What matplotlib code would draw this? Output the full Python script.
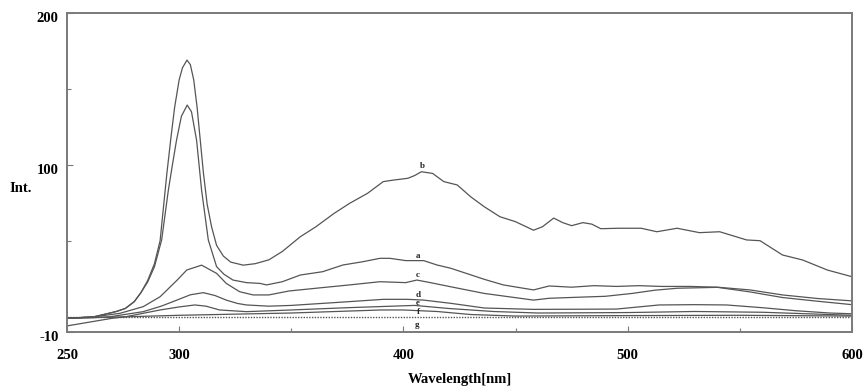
import matplotlib
matplotlib.use('Agg')
import matplotlib.pyplot as plt
import matplotlib.transforms as mtransforms
from matplotlib.ticker import FixedLocator

plt.rcParams['font.family'] = ['Liberation Serif', 'DejaVu Serif']
plt.rcParams['font.weight'] = 'bold'
plt.rcParams['axes.unicode_minus'] = False

# 光谱数据 (波长 nm, 强度)
wl_a = [250, 262, 272, 276, 280, 283, 286, 289, 292.2, 295.2, 297, 298.8, 301, 303.6, 305.5, 307.8, 310, 313,
        316.7, 320, 324, 330, 336, 339, 346, 354, 364, 373, 382, 389.5, 394, 401, 409, 415, 421, 428,
        436, 444.5, 458, 465, 475, 485, 495, 505, 515, 528, 540, 554.5, 569, 585, 600]
int_a = [-1, 0, 3.5, 5.5, 10, 16, 23, 33, 50.6, 83.5, 100, 116, 132, 139.4, 135, 116, 83.5, 50.6,
         33, 28, 24.2, 22.5, 22, 21, 23.1, 27.5, 29.7, 34.1, 36.3, 38.5, 38.5, 37, 37, 34.1, 32, 28.6,
         24.7, 21, 17.7, 20.3, 19.5, 20.5, 20, 20.5, 20, 20, 19.5, 17.7, 14.4, 12, 10.5]

wl_b = [250, 262, 272, 276, 280, 283, 286, 289, 291.5, 294.5, 296.5, 298, 300, 301.5, 303.5, 305, 306.5, 308,
        310.8, 312.5, 314.5, 316.7, 319.7, 323, 328.6, 334, 340, 346, 354, 361, 369, 376, 384, 391,
        395.5, 402, 405, 408, 413, 418, 424, 430, 436, 443, 450, 458, 462, 467, 471, 475, 480, 484,
        488, 496, 506, 513, 522, 532, 541, 553, 559, 569, 578, 589, 600]
int_b = [-1, 0, 3.5, 5.5, 10, 16, 24, 35, 50, 94, 120, 138, 156, 164, 169, 166, 156, 138,
         95, 74, 59, 47, 40, 36, 34, 35, 37.5, 43, 52.7, 59.3, 68, 74.7, 81.3, 89,
         90, 91.2, 93, 95.5, 94.4, 89, 86.8, 79, 72.5, 65.9, 62.6, 57, 59.3, 65, 62, 60, 62, 61,
         58, 58.3, 58.3, 56, 58.3, 55.4, 56, 50.6, 50.1, 40.7, 37.4, 30.8, 26.4]

wl_c = [250, 262, 273.6, 284, 291.5, 299, 303.4, 310, 316.7, 321, 327, 333, 340, 349, 361, 376,
        389.5, 401, 406, 412, 421, 436, 450, 458, 465, 480, 490, 502, 512, 522, 540, 554.5, 569,
        585, 600]
int_c = [-1, 0, 2.3, 6.7, 13.2, 24, 30.8, 34, 28.6, 22, 16.5, 14.4, 14.4, 17, 18.8, 21,
         23.1, 22.5, 24.2, 22.5, 19.8, 15.4, 12.6, 11, 12.2, 13, 13.5, 15.4, 17.5, 18.8, 19.4, 16.4, 12.7,
         10.2, 8]

wl_d = [250, 262, 269, 284, 292, 299, 305, 310.8, 316, 321, 326, 330, 340, 350, 376, 391, 402,
        409, 421, 436, 458, 480, 495, 514, 530, 544, 560, 575, 590, 600]
int_d = [-1, -0.5, 0, 3.4, 7, 11, 14.5, 15.9, 14, 11, 8.8, 7.8, 7, 7.5, 10, 11.5, 11.5,
         11, 8.9, 5.8, 4.9, 5, 5.1, 7.8, 8, 7.8, 6, 4, 2.5, 2]

wl_e = [250, 262, 276, 291.5, 300, 307, 312, 318, 330, 350, 375, 395, 405, 420, 440, 460, 500,
        530, 560, 600]
int_e = [-1, -0.5, 0, 4.5, 6.5, 7.8, 7, 4.5, 3.4, 4.5, 6, 7, 7.5, 5.5, 3.5, 2.5, 2.8,
         3.5, 3, 1]

wl_f = [250, 260, 270, 276, 300, 350, 390, 400, 415, 430, 450, 500, 550, 600]
int_f = [-6, -3.5, -1, 0, 1, 2.5, 4.5, 4.5, 3.5, 1.5, 0.5, 0.8, 1, 0.5]

wl_g = [250, 600]
int_g = [-0.3, -0.3]

curve_names = ['a', 'b', 'c', 'd', 'e', 'f', 'g']
# 曲线标注位置
label_x = [406.5, 408.6, 406.5, 406.5, 406.5, 406.5, 406]
label_y = [40, 99.3, 27.5, 14.4, 9.1, 3.2, -5.4]

x_major = [250, 300, 400, 500, 600]
x_minor = [350, 450, 550]
y_major = [-10, 100, 200]
y_minor = [50, 150]

line_color = '#555555'
frame_color = '#7a7a7a'

fig = plt.figure(figsize=(8.63, 3.90), dpi=100)
ax = fig.add_axes([67 / 863, 1 - 332 / 390, 785 / 863, 319 / 390])

# 画曲线
for wl, val in [(wl_a, int_a), (wl_b, int_b), (wl_c, int_c), (wl_d, int_d), (wl_e, int_e), (wl_f, int_f)]:
    ax.plot(wl, val, color=line_color, linewidth=0.9)
ax.plot(wl_g, int_g, color=line_color, linewidth=1.0, linestyle=(0, (1, 1)))

for name, lx, ly in zip(curve_names, label_x, label_y):
    ax.text(lx, ly, name, fontsize=6.5, fontweight='bold', ha='center', va='center', color='#222222')

ax.set_xlim(250, 600)
ax.set_ylim(-10, 200)

ax.xaxis.set_major_locator(FixedLocator(x_major))
ax.xaxis.set_minor_locator(FixedLocator(x_minor))
ax.yaxis.set_major_locator(FixedLocator(y_major))
ax.yaxis.set_minor_locator(FixedLocator(y_minor))

ax.tick_params(axis='both', which='both', direction='in', color=frame_color, width=0.8, labelsize=10.5)
ax.tick_params(axis='x', which='major', length=4, pad=12)
ax.tick_params(axis='x', which='minor', length=3)
ax.tick_params(axis='y', which='major', length=4, pad=6)
ax.tick_params(axis='y', which='minor', length=3)
for lab in ax.get_xticklabels() + ax.get_yticklabels():
    lab.set_fontweight('bold')

# y轴刻度标签稍微下移
shift = mtransforms.ScaledTranslation(0, -4 / 100, fig.dpi_scale_trans)
for lab in ax.get_yticklabels():
    lab.set_transform(lab.get_transform() + shift)

for sp in ax.spines.values():
    sp.set_color(frame_color)
    sp.set_linewidth(1.4)

ax.set_ylabel('Int.', rotation=0, fontsize=10.5, fontweight='bold', va='center', ha='center')
ax.yaxis.set_label_coords(-0.059, 0.451)
ax.set_xlabel('Wavelength[nm]', fontsize=10.5, fontweight='bold')
ax.xaxis.set_label_coords(0.5, -0.129)

fig.savefig('out.png', dpi=100)
